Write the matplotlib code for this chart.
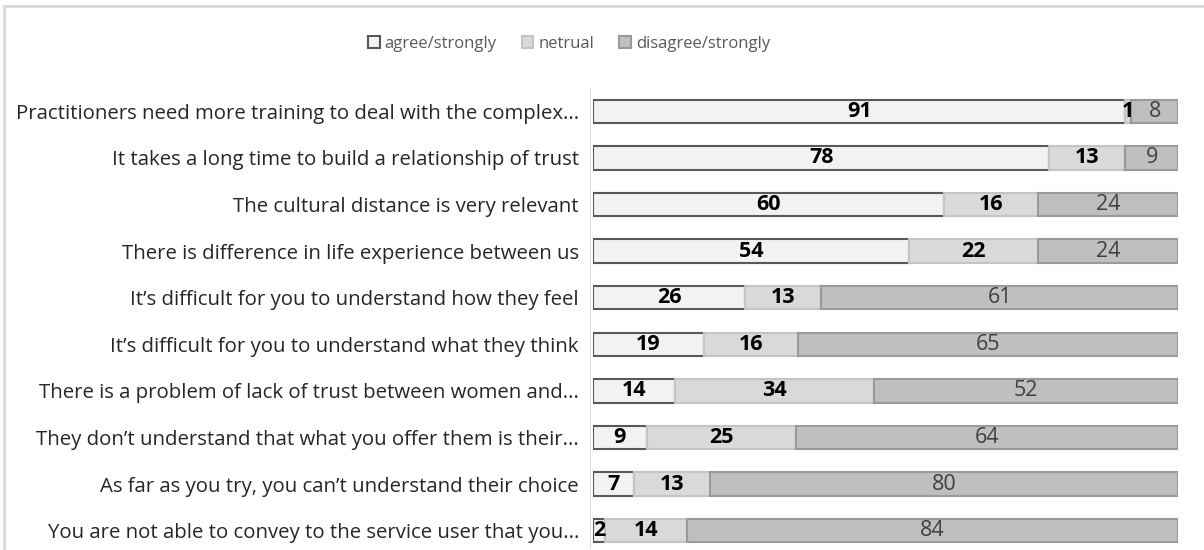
import matplotlib.pyplot as plt
from matplotlib.lines import Line2D

categories = [
    "Practitioners need more training to deal with the complex...",
    "It takes a long time to build a relationship of trust",
    "The cultural distance is very relevant",
    "There is difference in life experience between us",
    "It\u2019s difficult for you to understand how they feel",
    "It\u2019s difficult for you to understand what they think",
    "There is a problem of lack of trust between women and...",
    "They don\u2019t understand that what you offer them is their...",
    "As far as you try, you can\u2019t understand their choice",
    "You are not able to convey to the service user that you...",
]
agree = [91, 78, 60, 54, 26, 19, 14, 9, 7, 2]
neutral = [1, 13, 16, 22, 13, 16, 34, 25, 13, 14]
disagree = [8, 9, 24, 24, 61, 65, 52, 64, 80, 84]
series_names = ["agree/strongly", "netrual", "disagree/strongly"]

plt.rcParams['font.family'] = ['Open Sans', 'DejaVu Sans']

fig = plt.figure(figsize=(12.04, 5.5), dpi=100)
ax = fig.add_axes([593 / 1204, 1 - 548 / 550, (1178 - 593) / 1204, (548 - 88) / 550])

# spine position first: it resets the ticks
for s in ['top', 'right', 'bottom']:
    ax.spines[s].set_visible(False)
ax.spines['left'].set_color('#d9d9d9')
ax.spines['left'].set_position(('data', -0.5))

# 100% stacked: each row is scaled to its own total
totals = [a + n + d for a, n, d in zip(agree, neutral, disagree)]
y = list(range(len(categories)))
fills = ['#f2f2f2', '#d9d9d9', '#bfbfbf']
edges = ['#595959', '#c4c4c4', '#9a9a9a']
left = [0] * len(categories)
for k, vals in enumerate([agree, neutral, disagree]):
    pct = [v / t * 100 for v, t in zip(vals, totals)]
    ax.barh(y, pct, left=left, height=0.5, color=fills[k], edgecolor=edges[k],
            linewidth=1.5, label=series_names[k])
    for yi, v, p, l in zip(y, vals, pct, left):
        if k < 2:
            ax.text(l + p / 2, yi, str(v), ha='center', va='center', fontsize=15.5,
                    fontweight='bold', color='black')
        else:
            ax.text(l + p / 2, yi, str(v), ha='center', va='center', fontsize=15.5,
                    color='#404040')
    left = [a + b for a, b in zip(left, pct)]

ax.set_xlim(0, 100)
ax.set_ylim(9.37, -0.5)
ax.set_yticks(y)
ax.set_yticklabels(categories)
ax.tick_params(axis='y', length=0, pad=8, labelsize=14.7, labelcolor='#262626')
ax.set_xticks([])

leg = fig.legend(loc='center', bbox_to_anchor=(569 / 1204, 1 - 44 / 550), ncol=3, frameon=False,
                 fontsize=12, handlelength=0.7, handleheight=0.7, handletextpad=0.3,
                 columnspacing=1.5)
for t in leg.get_texts():
    t.set_color('#595959')

# chart border (cut off at right and bottom)
fig.add_artist(Line2D([4 / 1204, 1.0], [1 - 6 / 550, 1 - 6 / 550], color='#d9d9d9', lw=2))
fig.add_artist(Line2D([4 / 1204, 4 / 1204], [0, 1 - 6 / 550], color='#d9d9d9', lw=2))

fig.savefig('out.png', dpi=100)
